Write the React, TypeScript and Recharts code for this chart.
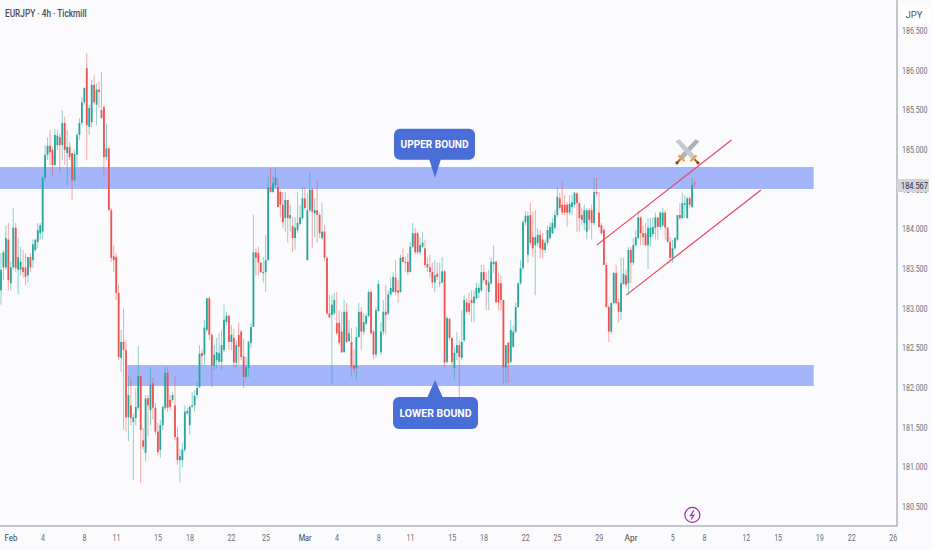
import { Bar, ComposedChart, ReferenceArea, ReferenceDot, ReferenceLine, XAxis, YAxis } from 'recharts';

// EURJPY 4h candles
const opens = [
  183.23, 183.52, 183.52, 183.87, 183.32, 183.52, 184.02, 183.49, 183.49, 183.52, 183.52, 183.42, 183.65, 183.61, 183.74, 183.84, 183.95, 183.97, 184.65, 184.94,
  185.05, 185.00, 184.81, 185.06, 185.16, 185.06, 185.34, 184.96, 185.04, 184.96, 184.62, 184.94, 185.19, 185.34, 185.60, 186.03, 185.29, 185.35, 185.82, 185.57,
  185.76, 185.50, 185.54, 184.91, 185.02, 184.24, 183.66, 183.65, 183.20, 182.38, 182.58, 182.48, 181.63, 181.78, 181.57, 181.62, 181.75, 182.15, 181.34, 181.18,
  181.87, 181.72, 182.06, 181.75, 181.45, 181.22, 181.53, 181.75, 182.19, 181.85, 181.85, 181.78, 181.38, 181.09, 181.09, 181.22, 181.68, 181.53, 181.76, 181.78,
  181.91, 182.01, 182.44, 182.42, 182.73, 183.13, 182.67, 182.28, 182.35, 182.33, 182.33, 182.48, 182.83, 182.91, 182.58, 182.63, 182.32, 182.67, 182.71, 182.40,
  182.14, 182.25, 182.57, 182.77, 183.71, 183.70, 183.58, 183.45, 183.46, 183.61, 184.53, 184.47, 184.56, 184.53, 184.47, 184.31, 184.14, 184.37, 184.14, 184.04,
  183.89, 183.99, 184.07, 184.14, 184.39, 183.61, 184.24, 184.50, 184.20, 184.24, 184.18, 183.89, 183.97, 183.64, 182.94, 182.92, 182.94, 182.82, 182.82, 182.71,
  182.45, 182.96, 182.59, 182.58, 182.28, 182.25, 182.64, 182.96, 182.71, 182.81, 182.91, 183.21, 182.71, 182.42, 182.97, 182.45, 182.71, 182.96, 182.94, 183.18,
  183.21, 183.39, 183.23, 183.21, 183.65, 183.59, 183.59, 183.46, 183.78, 183.95, 183.95, 183.71, 183.78, 183.76, 183.56, 183.52, 183.46, 183.33, 183.44, 183.32,
  183.33, 183.47, 182.33, 182.87, 182.63, 182.25, 182.44, 182.54, 182.38, 182.60, 183.08, 183.07, 183.11, 183.07, 183.13, 183.20, 183.23, 183.46, 183.36, 183.21,
  183.32, 183.56, 183.59, 183.32, 183.32, 183.11, 182.26, 182.57, 182.33, 182.52, 182.71, 183.02, 183.32, 183.51, 184.09, 183.68, 184.18, 183.90, 183.80, 183.83,
  183.93, 183.87, 183.74, 183.83, 183.89, 183.95, 184.02, 184.18, 184.39, 184.31, 184.31, 184.31, 184.21, 184.28, 184.31, 184.45, 184.33, 184.18, 184.08, 183.97,
  184.24, 184.24, 184.08, 184.47, 184.21, 184.05, 183.99, 183.55, 183.02, 182.71, 183.07, 183.45, 183.08, 182.96, 183.31, 183.42, 183.32, 183.74, 183.58, 183.80,
  183.89, 184.15, 183.95, 183.95, 183.80, 183.90, 183.94, 184.02, 184.15, 184.03, 184.05, 184.21, 184.02, 183.84, 183.64, 183.76, 183.87, 184.18, 184.14, 184.31,
  184.14, 184.39, 184.28, 184.58,
];
const highs = [
  183.70, 183.74, 184.05, 184.08, 183.59, 184.27, 184.08, 183.90, 183.78, 183.74, 183.70, 183.65, 183.70, 183.87, 183.87, 184.08, 184.08, 184.68, 185.06, 185.16,
  185.25, 185.04, 185.26, 185.25, 185.21, 185.50, 185.42, 185.25, 185.10, 184.96, 185.00, 185.21, 185.40, 185.67, 185.79, 186.22, 185.57, 185.88, 185.94, 185.84,
  185.86, 185.98, 185.57, 185.33, 185.04, 184.27, 183.80, 183.70, 183.30, 182.73, 183.00, 182.60, 182.16, 182.13, 181.68, 182.00, 182.53, 182.15, 181.50, 181.91,
  181.91, 182.26, 182.13, 181.81, 181.56, 181.60, 181.78, 182.26, 182.26, 181.91, 181.95, 182.15, 181.51, 181.23, 181.31, 181.78, 181.75, 181.78, 181.95, 181.97,
  182.07, 182.54, 182.48, 182.86, 183.13, 183.15, 182.69, 182.54, 182.63, 182.69, 182.73, 183.05, 182.96, 182.92, 182.79, 182.74, 182.60, 182.82, 182.73, 182.62,
  182.39, 182.60, 182.82, 184.18, 183.76, 183.78, 183.58, 183.65, 183.93, 184.66, 184.77, 184.66, 184.77, 184.65, 184.50, 184.47, 184.47, 184.37, 184.31, 184.15,
  184.15, 184.47, 184.31, 184.53, 184.53, 184.46, 184.71, 184.52, 184.39, 184.62, 184.21, 184.33, 184.05, 183.64, 183.17, 183.17, 183.20, 183.21, 182.98, 182.96,
  183.11, 183.07, 182.86, 182.76, 182.48, 182.77, 183.07, 183.02, 182.94, 182.94, 183.23, 183.23, 182.73, 183.02, 183.36, 182.83, 183.11, 183.30, 183.23, 183.39,
  183.46, 183.61, 183.36, 183.68, 183.76, 183.65, 183.70, 183.84, 184.08, 184.02, 183.97, 183.90, 183.97, 183.87, 183.65, 183.68, 183.58, 183.61, 183.58, 183.58,
  183.65, 183.49, 182.91, 182.88, 182.64, 182.52, 182.70, 182.60, 182.98, 183.17, 183.13, 183.20, 183.23, 183.23, 183.33, 183.32, 183.55, 183.55, 183.46, 183.49,
  183.64, 183.80, 183.61, 183.45, 183.42, 183.11, 182.54, 182.58, 182.86, 182.79, 183.08, 183.33, 183.61, 184.12, 184.23, 184.22, 184.33, 184.22, 184.24, 184.02,
  183.99, 183.95, 183.87, 184.05, 184.09, 184.14, 184.24, 184.53, 184.46, 184.60, 184.43, 184.34, 184.43, 184.43, 184.47, 184.47, 184.34, 184.27, 184.31, 184.26,
  184.27, 184.31, 184.65, 184.65, 184.47, 184.08, 184.02, 183.58, 183.05, 183.08, 183.46, 183.55, 183.13, 183.64, 183.64, 183.49, 183.78, 183.78, 183.89, 183.99,
  184.23, 184.17, 184.05, 184.08, 184.14, 184.14, 184.15, 184.21, 184.15, 184.22, 184.27, 184.24, 184.03, 183.90, 183.87, 183.90, 184.18, 184.33, 184.46, 184.43,
  184.41, 184.41, 184.65, 184.62,
];
const lows = [
  183.05, 183.36, 183.49, 183.23, 183.23, 183.49, 183.46, 183.18, 183.42, 183.39, 183.30, 183.33, 183.46, 183.51, 183.71, 183.76, 183.87, 183.87, 184.62, 184.87,
  184.81, 184.67, 184.80, 185.00, 184.71, 184.87, 184.81, 184.56, 184.87, 184.37, 184.60, 184.79, 185.13, 185.31, 185.57, 184.87, 185.19, 185.29, 185.57, 185.31,
  185.53, 185.40, 184.68, 184.87, 184.24, 183.59, 183.46, 183.11, 182.35, 182.20, 181.47, 181.45, 181.33, 181.53, 180.84, 181.53, 181.72, 180.80, 181.22, 181.07,
  181.39, 181.53, 181.60, 181.41, 181.15, 181.12, 181.47, 181.72, 181.70, 181.72, 181.82, 181.34, 181.03, 180.81, 181.00, 181.19, 181.66, 181.41, 181.75, 181.70,
  181.87, 182.00, 182.29, 182.29, 182.71, 182.60, 182.01, 182.23, 182.25, 182.29, 182.23, 182.45, 182.79, 182.48, 182.48, 182.26, 182.26, 182.29, 182.35, 182.00,
  182.13, 182.14, 182.50, 182.77, 183.42, 183.42, 183.45, 183.32, 183.21, 183.61, 184.46, 184.46, 184.53, 184.28, 184.15, 184.02, 183.97, 183.83, 183.97, 183.71,
  183.74, 183.95, 184.05, 184.12, 184.24, 183.61, 184.22, 183.76, 183.90, 183.83, 183.89, 183.87, 183.61, 182.92, 182.88, 182.04, 182.92, 182.67, 182.54, 182.44,
  182.45, 182.57, 182.58, 182.14, 182.20, 182.10, 182.64, 182.48, 182.67, 182.79, 182.89, 182.67, 182.36, 182.38, 182.96, 182.42, 182.67, 182.67, 182.92, 183.15,
  183.20, 183.17, 183.07, 183.20, 183.58, 183.46, 183.42, 183.46, 183.76, 183.68, 183.68, 183.68, 183.76, 183.52, 183.46, 183.39, 183.26, 183.21, 183.36, 183.27,
  183.32, 182.26, 182.31, 182.60, 182.29, 182.11, 182.35, 181.87, 182.35, 182.58, 182.94, 182.92, 182.83, 182.83, 183.11, 183.13, 183.21, 183.33, 182.98, 182.98,
  183.30, 183.45, 183.07, 182.98, 182.98, 182.06, 182.06, 182.06, 182.31, 182.50, 182.69, 183.01, 183.30, 183.49, 184.05, 183.58, 183.80, 183.65, 183.17, 183.78,
  183.64, 183.63, 183.70, 183.80, 183.87, 183.94, 183.99, 184.15, 184.24, 184.18, 184.18, 184.03, 184.18, 184.18, 184.27, 183.97, 183.97, 184.05, 183.99, 183.87,
  183.99, 183.87, 184.05, 184.41, 184.02, 183.93, 183.55, 183.01, 182.58, 182.68, 183.05, 183.05, 182.83, 182.86, 183.30, 183.27, 183.17, 183.32, 183.55, 183.78,
  183.87, 183.80, 183.80, 183.78, 183.50, 183.78, 183.90, 183.87, 183.87, 184.00, 184.03, 183.87, 183.83, 183.61, 183.58, 183.74, 183.85, 184.12, 184.13, 184.15,
  184.14, 184.27, 184.27, 184.53,
];
const closes = [
  183.49, 183.71, 183.89, 183.36, 183.52, 184.02, 183.51, 183.65, 183.59, 183.46, 183.40, 183.65, 183.52, 183.81, 183.87, 183.99, 184.05, 184.65, 184.94, 185.05,
  184.97, 184.81, 185.19, 185.18, 185.06, 185.34, 185.00, 185.04, 184.91, 184.62, 184.95, 185.19, 185.34, 185.60, 185.78, 185.31, 185.53, 185.82, 185.60, 185.76,
  185.73, 185.40, 184.91, 185.02, 184.24, 183.64, 183.61, 183.20, 182.39, 182.58, 182.48, 181.63, 181.91, 181.62, 181.63, 181.76, 182.15, 181.47, 181.26, 181.87,
  181.78, 182.04, 181.75, 181.45, 181.19, 181.53, 181.76, 182.19, 181.75, 181.76, 181.91, 181.38, 181.09, 181.14, 181.22, 181.70, 181.71, 181.76, 181.78, 181.90,
  182.00, 182.43, 182.40, 182.76, 183.13, 182.67, 182.28, 182.42, 182.45, 182.44, 182.54, 182.86, 182.91, 182.58, 182.67, 182.32, 182.54, 182.52, 182.39, 182.14,
  182.26, 182.58, 182.77, 183.71, 183.64, 183.58, 183.46, 183.46, 183.61, 184.53, 184.47, 184.58, 184.65, 184.28, 184.31, 184.09, 184.37, 184.14, 184.18, 183.89,
  184.02, 184.08, 184.15, 184.39, 184.27, 184.24, 184.50, 184.22, 184.24, 184.18, 183.95, 183.97, 183.64, 182.94, 182.89, 183.05, 183.11, 182.69, 182.57, 182.45,
  182.96, 182.58, 182.69, 182.26, 182.24, 182.64, 182.96, 182.71, 182.83, 182.91, 183.21, 182.69, 182.42, 182.98, 183.31, 182.71, 182.96, 182.92, 183.18, 183.26,
  183.40, 183.21, 183.20, 183.64, 183.59, 183.58, 183.46, 183.78, 183.95, 183.71, 183.71, 183.80, 183.83, 183.55, 183.52, 183.46, 183.33, 183.42, 183.40, 183.33,
  183.47, 182.32, 182.88, 182.63, 182.33, 182.44, 182.54, 182.39, 182.58, 183.11, 182.96, 182.96, 183.07, 183.15, 183.26, 183.26, 183.46, 183.36, 183.30, 183.33,
  183.59, 183.59, 183.08, 183.08, 183.11, 182.26, 182.54, 182.31, 182.73, 182.71, 183.02, 183.32, 183.51, 184.09, 184.17, 184.17, 183.83, 183.76, 183.90, 183.93,
  183.76, 183.74, 183.83, 183.99, 184.03, 184.08, 184.18, 184.41, 184.27, 184.21, 184.21, 184.21, 184.32, 184.34, 184.46, 184.33, 184.14, 184.12, 184.24, 184.24,
  184.12, 184.08, 184.47, 184.45, 184.03, 183.95, 183.55, 183.02, 182.71, 183.07, 183.45, 183.07, 182.96, 183.32, 183.44, 183.30, 183.74, 183.58, 183.80, 183.90,
  184.15, 183.95, 183.90, 183.80, 184.02, 184.02, 184.03, 184.15, 184.03, 184.21, 184.21, 184.02, 183.84, 183.64, 183.76, 183.89, 184.18, 184.14, 184.33, 184.33,
  184.39, 184.31, 184.56, 184.57,
];

const slotCount = 366;
const lastPrice = 184.567;

const priceTicks = [180.5, 181, 181.5, 182, 182.5, 183, 183.5, 184, 184.5, 185, 185.5, 186, 186.5];
const dateSlots = [4, 17, 34, 47, 64, 77, 94, 108, 124, 137, 154, 167, 184, 197, 214, 227, 244, 257, 274, 287, 304, 317, 334, 347, 364];
const dateLabels = ['Feb', '4', '8', '11', '15', '18', '22', '25', 'Mar', '4', '8', '11', '15', '18', '22', '25', '29', 'Apr', '5', '8', '12', '15', '19', '22', '26'];

const upperBand = [184.508, 184.786];
const lowerBand = [182.025, 182.29];
const upperChannel = [{ x: 243, y: 183.8 }, { x: 298, y: 185.125 }];
const lowerChannel = [{ x: 255, y: 183.17 }, { x: 310, y: 184.495 }];

const UP = '#26a69a';
const DOWN = '#ef5350';
const FONT = 'Roboto, sans-serif';

const rows = Array.from({ length: slotCount }, (_, slot) => ({
  slot,
  open: opens[slot],
  high: highs[slot],
  low: lows[slot],
  close: closes[slot],
}));

function Candle(props: any) {
  const { x, y, width, height, payload } = props;
  if (payload.open === undefined) return null;
  const k = height / (payload.high - payload.low);
  const top = y + (payload.high - Math.max(payload.open, payload.close)) * k;
  const bodyH = Math.abs(payload.open - payload.close) * k;
  const color = payload.close >= payload.open ? UP : DOWN;
  const mid = x + width / 2;
  return (
    <g>
      <line x1={mid} x2={mid} y1={y} y2={y + height} stroke={color} strokeWidth={1} strokeOpacity={0.5} />
      <rect x={mid - 0.9} y={top} width={1.8} height={Math.max(bodyH, 1)} fill={color} />
    </g>
  );
}

function PriceTick(props: any) {
  const { x, y, payload } = props;
  return (
    <text transform={`translate(${x - 3} ${y + 3}) scale(0.78 1)`} fontSize={9} fontFamily={FONT} fill="#6a6d78">
      {payload.value.toFixed(3)}
    </text>
  );
}

function DateTick(props: any) {
  const { x, y, payload } = props;
  const label = dateLabels[dateSlots.indexOf(payload.value)];
  const isMonth = label.length === 3;
  return (
    <text
      x={x}
      y={y + 7}
      fontSize={9}
      fontFamily={FONT}
      textAnchor="middle"
      fill={isMonth ? '#3f424d' : '#6a6d78'}
      textLength={isMonth ? 13 : label.length * 4}
      lengthAdjust="spacingAndGlyphs"
    >
      {label}
    </text>
  );
}

function UpperCallout(props: any) {
  const { cx, cy } = props;
  return (
    <g>
      <path d={`M${cx} ${cy} L${cx - 6} ${cy - 19} L${cx + 6} ${cy - 19} Z`} fill="#4a6ed8" />
      <rect x={cx - 41} y={cy - 49} width={81} height={31} rx={6} fill="#4a6ed8" />
      <text x={cx - 0.5} y={cy - 29.5} textAnchor="middle" fontSize={11} fontWeight={700} fontFamily={FONT} fill="#ffffff" textLength={68} lengthAdjust="spacingAndGlyphs">
        UPPER BOUND
      </text>
    </g>
  );
}

function LowerCallout(props: any) {
  const { cx, cy } = props;
  return (
    <g>
      <path d={`M${cx} ${cy} L${cx - 8} ${cy + 18} L${cx + 8} ${cy + 18} Z`} fill="#4a6ed8" />
      <rect x={cx - 42} y={cy + 17} width={85} height={32} rx={6} fill="#4a6ed8" />
      <text x={cx + 0.5} y={cy + 37} textAnchor="middle" fontSize={11} fontWeight={700} fontFamily={FONT} fill="#ffffff" textLength={72} lengthAdjust="spacingAndGlyphs">
        LOWER BOUND
      </text>
    </g>
  );
}

function Swords(props: any) {
  const { cx, cy } = props;
  return (
    <g transform={`translate(${cx} ${cy})`}>
      <path d="M8 -13 L12 -11 L-5 8 L-9 5 Z" fill="#aeb3bb" />
      <path d="M-8 -13 L-12 -11 L5 8 L9 5 Z" fill="#c6c9cf" />
      <path d="M-9 3 L-3 9 M9 3 L3 9" stroke="#e8a33c" strokeWidth={2} />
      <path d="M-7 7 L-10 10 M7 7 L10 10" stroke="#a5612a" strokeWidth={2} />
      <circle cx={-10.5} cy={10.5} r={1.6} fill="#7d4a1f" />
      <circle cx={10.5} cy={10.5} r={1.6} fill="#7d4a1f" />
    </g>
  );
}

function Bolt(props: any) {
  const { cx, cy } = props;
  return (
    <g transform={`translate(${cx} ${cy})`}>
      <circle r={7.5} fill="#fbfbfe" stroke="#9c27b0" strokeWidth={1.2} />
      <path d="M1.5 -4.5 L-2 0.8 L1.5 0.2 L-1.2 4.5" fill="none" stroke="#9c27b0" strokeWidth={1.1} />
    </g>
  );
}

export default function App() {
  return (
    <div style={{ position: 'absolute', left: 0, top: 0, width: 932, height: 550, background: '#fbfbfe', overflow: 'hidden' }}>
      <ComposedChart width={932} height={550} data={rows} margin={{ top: 0, right: 0, bottom: 0, left: 0 }}>
        <XAxis
          dataKey="slot"
          ticks={dateSlots}
          interval={0}
          height={24}
          tick={<DateTick />}
          tickLine={false}
          axisLine={{ stroke: '#8c8f97', strokeWidth: 1 }}
        />
        <YAxis
          orientation="right"
          width={35}
          domain={[180.26, 186.89]}
          allowDataOverflow
          ticks={priceTicks}
          interval={0}
          tick={<PriceTick />}
          tickLine={false}
          axisLine={{ stroke: '#8c8f97', strokeWidth: 1 }}
        />
        <Bar dataKey={(d: any) => (d.open === undefined ? null : [d.low, d.high])} barSize={2} shape={<Candle />} isAnimationActive={false} />
        <ReferenceArea x2={331} y1={upperBand[0]} y2={upperBand[1]} fill="#4c70f8" fillOpacity={0.5} stroke="none" />
        <ReferenceArea x1={52} x2={331} y1={lowerBand[0]} y2={lowerBand[1]} fill="#4c70f8" fillOpacity={0.5} stroke="none" />
        <ReferenceLine segment={upperChannel} stroke="#e8455e" strokeWidth={1.2} />
        <ReferenceLine segment={lowerChannel} stroke="#e8455e" strokeWidth={1.2} />
        <ReferenceDot x={177} y={184.65} shape={<UpperCallout />} />
        <ReferenceDot x={177} y={182.1} shape={<LowerCallout />} />
        <ReferenceDot x={280} y={184.97} shape={<Swords />} />
        <ReferenceDot x={282} y={180.4} shape={<Bolt />} />
      </ComposedChart>
      <div style={{ position: 'absolute', left: 5, top: 6, fontFamily: FONT, fontSize: 11.5, fontWeight: 500, color: '#4a4c57', whiteSpace: 'nowrap', transform: 'scaleX(0.72)', transformOrigin: 'left center' }}>
        EURJPY · 4h · Tickmill
      </div>
      <div style={{ position: 'absolute', left: 899, top: 5, width: 30, height: 19, lineHeight: '19px', textAlign: 'center', background: '#ffffff', fontFamily: FONT, fontSize: 9.5, color: '#4a4c57' }}>
        JPY
      </div>
      <div style={{ position: 'absolute', left: 897, top: 179, width: 32, height: 13, lineHeight: '13px', background: '#d3d5db', fontFamily: FONT, fontSize: 9.5, color: '#2b2d36', overflow: 'hidden' }}>
        <span style={{ display: 'inline-block', marginLeft: 4, transform: 'scaleX(0.78)', transformOrigin: 'left center' }}>{lastPrice}</span>
      </div>
    </div>
  );
}
